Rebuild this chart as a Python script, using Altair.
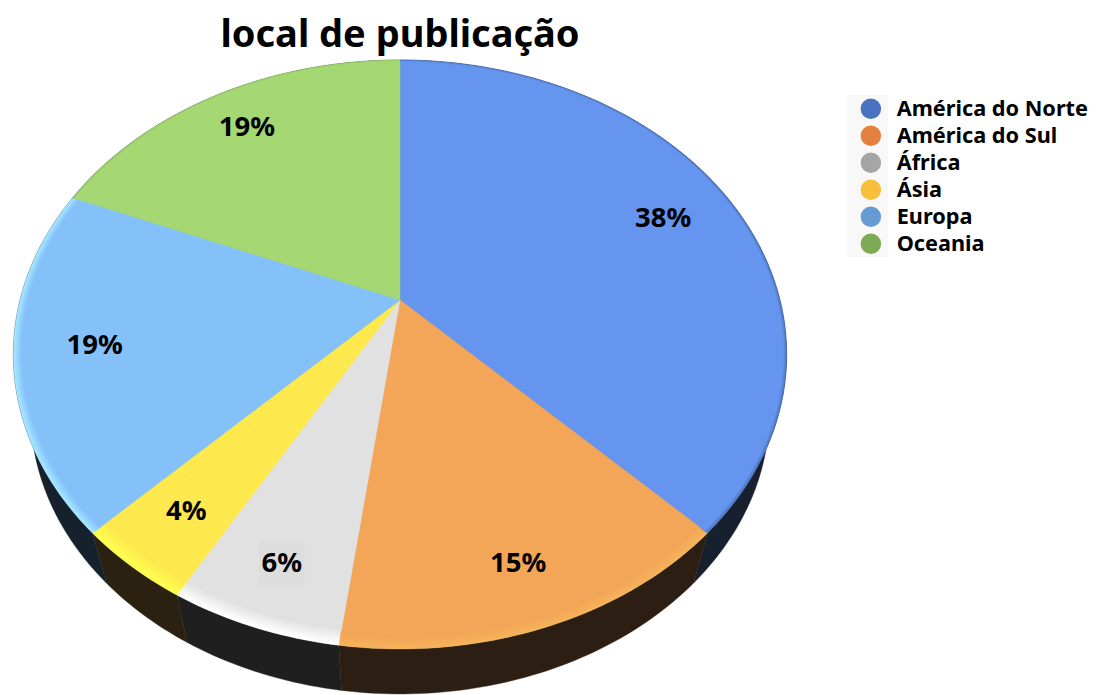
import math
import altair as alt

# ---- chart values ----
regions = ["América do Norte", "América do Sul", "África", "Ásia", "Europa", "Oceania"]
shares = [37.6, 14.5, 6.1, 4.2, 18.9, 18.7]
share_labels = ["38%", "15%", "6%", "4%", "19%", "19%"]
title_text = "local de publicação"

# ---- styles ----
legend_colors = ["#4A72C0", "#E4813F", "#A5A5A5", "#F8BF3C", "#659BD3", "#7DAB55"]
top_colors = ["#6595EE", "#F3A558", "#E1E1E1", "#FDE94E", "#85C1F9", "#A5D873"]
rim_colors = ["#4F74BC", "#F6B35A", "#FFFFFF", "#FFFF50", "#A5E6FF", "#97C868"]
rim_depth = [0.008, 0.025, 0.035, 0.035, 0.02, 0.008]
wall_colors = ["#16202F", "#2D1E14", "#1F1F1F", "#2A2110", "#16212E", "#16212E"]
label_box_colors = [top_colors[0], top_colors[1], "#DDDDDD", top_colors[3], top_colors[4], top_colors[5]]
label_radius = [0.79, 0.835, 0.835, 0.82, 0.796, 0.818]
FONT = "Noto Sans"

# ---- tilted-disc projection ----
CX, CY = 392, 292          # pie centre inside the plot area
SX, SY, TILT = 380, 284.4, 0.185
WALL_SX, WALL_SY, WALL_DY = 0.955, 0.957, 60


def project(angle_deg, radius=1.0):
    a = math.radians(angle_deg)
    ux, uy = radius * math.sin(a), radius * math.cos(a)
    w = 1 + TILT * uy
    return SX * ux / w, SY * uy / w


def wall_point(angle_deg):
    x, y = project(angle_deg)
    return x * WALL_SX, y * WALL_SY - WALL_DY


def arc_angles(start, end):
    n = max(2, int((end - start) / 1.0))
    return [start + (end - start) * i / n for i in range(n + 1)]


def feature(ring, color):
    ring = [[round(x, 2), round(y, 2)] for x, y in ring]
    ring.append(ring[0])
    return {"type": "Feature",
            "geometry": {"type": "Polygon", "coordinates": [ring]},
            "properties": {"fill": color}}


total = sum(shares)
edges = [0.0]
for s in shares:
    edges.append(edges[-1] + s / total * 360)

features = []
# side wall first
for i in range(len(shares)):
    angles = arc_angles(edges[i], edges[i + 1])
    ring = [project(a) for a in angles] + [wall_point(a) for a in reversed(angles)]
    features.append(feature(ring, wall_colors[i]))


def mix(c1, c2, t):
    a = [int(c1[j:j + 2], 16) for j in (1, 3, 5)]
    b = [int(c2[j:j + 2], 16) for j in (1, 3, 5)]
    return "#" + "".join(f"{round(p + (q - p) * t):02X}" for p, q in zip(a, b))


# top face, from the rim inwards
STEPS = 6
for level in range(STEPS):
    t = level / (STEPS - 1)
    for i in range(len(shares)):
        r = 1 - rim_depth[i] * t
        angles = arc_angles(edges[i], edges[i + 1])
        ring = [(0.0, 0.0)] + [project(a, r) for a in angles]
        features.append(feature(ring, mix(rim_colors[i], top_colors[i], t)))

label_rows = []
for i, lab in enumerate(share_labels):
    mid = (edges[i] + edges[i + 1]) / 2
    x, y = project(mid, label_radius[i])
    label_rows.append({
        "label": lab, "px": CX + x, "py": CY - y,
        "x0": CX + x - 23, "x1": CX + x + 23,
        "y0": CY - y - 21, "y1": CY - y + 21,
        "box": label_box_colors[i],
    })

legend_rows = [{"region": r} for r in regions]

projection = alt.Projection(type="identity", scale=1, translate=[CX, CY], reflectY=True)

pie = (
    alt.Chart(alt.Data(values=features))
    .mark_geoshape(strokeWidth=0.4)
    .encode(
        fill=alt.Fill("properties.fill:N", scale=None, legend=None),
        stroke=alt.Stroke("properties.fill:N", scale=None, legend=None),
    )
    .project(**projection.to_dict())
)

label_boxes = (
    alt.Chart(alt.Data(values=label_rows))
    .mark_rect()
    .encode(
        x=alt.X("x0:Q", scale=None, axis=None),
        x2="x1:Q",
        y=alt.Y("y0:Q", scale=None, axis=None),
        y2="y1:Q",
        fill=alt.Fill("box:N", scale=None, legend=None),
    )
)

labels = (
    alt.Chart(alt.Data(values=label_rows))
    .mark_text(font=FONT, fontWeight="bold", fontSize=27.5, color="black", baseline="middle", align="center")
    .encode(
        x=alt.X("px:Q", scale=None, axis=None),
        y=alt.Y("py:Q", scale=None, axis=None),
        text="label:N",
    )
)

title_mark = (
    alt.Chart(alt.Data(values=[{"t": title_text}]))
    .mark_text(font=FONT, fontWeight="bold", fontSize=38, color="black", align="center", baseline="alphabetic")
    .encode(x=alt.value(392), y=alt.value(39), text="t:N")
)

legend_band = (
    alt.Chart(alt.Data(values=[{"k": 1}]))
    .mark_rect(color="#F8F8F8")
    .encode(x=alt.value(839), x2=alt.value(880), y=alt.value(87), y2=alt.value(249))
)

legend_layer = (
    alt.Chart(alt.Data(values=legend_rows))
    .mark_circle(opacity=1, size=420)
    .encode(
        x=alt.value(-60),
        y=alt.value(-60),
        color=alt.Color(
            "region:N",
            scale=alt.Scale(domain=regions, range=legend_colors),
            sort=regions,
            legend=alt.Legend(
                title=None,
                orient="none",
                legendX=852,
                legendY=90,
                symbolSize=420,
                symbolType="circle",
                symbolStrokeWidth=0,
                labelFont=FONT,
                labelFontWeight="bold",
                labelFontSize=21.7,
                labelColor="black",
                labelOffset=15,
                rowPadding=4,
                padding=0,
                zindex=1,
                labelLimit=300,
            ),
        ),
    )
)

chart = (
    alt.layer(legend_band, pie, label_boxes, labels, title_mark, legend_layer)
    .resolve_scale(color="independent", fill="independent", x="independent", y="independent")
    .properties(width=1081, height=687, padding=0, autosize="none")
    .configure_view(stroke=None)
)

chart.save("out.html", embed_options={"renderer": "svg", "actions": False})
